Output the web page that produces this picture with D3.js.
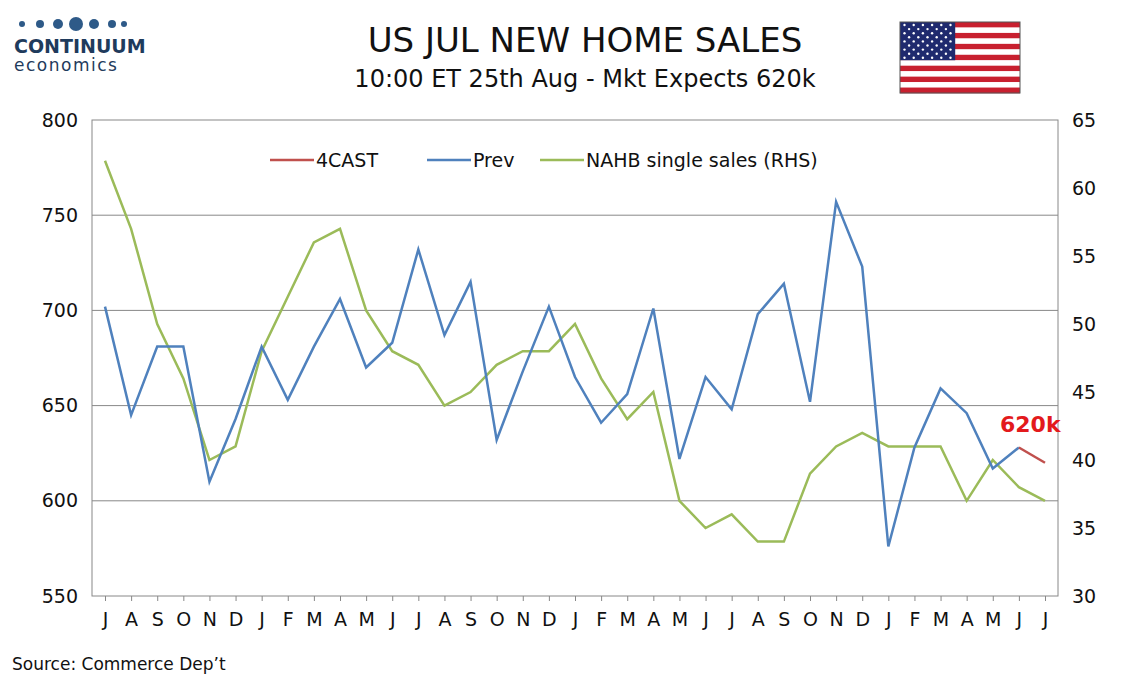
<!DOCTYPE html><html><head><meta charset="utf-8"><script src="https://cdn.jsdelivr.net/npm/d3@7"></script>
<style>body{margin:0;background:#fff}text{font-family:Verdana,"DejaVu Sans",sans-serif}</style></head><body>
<svg id="c" width="1134" height="680"></svg>
<script>
const months=["J","A","S","O","N","D","J","F","M","A","M","J","J","A","S","O","N","D","J","F","M","A","M","J","J","A","S","O","N","D","J","F","M","A","M","J","J"];
const prev=[702,645,681,681,610,643,681,653,681,706,670,683,732,687,715,632,668,702,665,641,656,701,622,665,648,698,714,652,757,723,576,628,659,646,617,628];
const fcast=[628,620];
const nahb=[62,57,50,46,40,41,48,52,56,57,51,48,47,44,45,47,48,48,50,46,43,45,37,35,36,34,34,39,41,42,41,41,41,37,40,38,37];
const leftTicks=[550,600,650,700,750,800], rightTicks=[30,35,40,45,50,55,60,65];
const svg=d3.select("#c");
const L=92,R=1058,T=120,B=596;
const x=d3.scalePoint().domain(d3.range(months.length)).range([105,1045]);
const y=d3.scaleLinear().domain([550,800]).range([B,T]);
const y2=d3.scaleLinear().domain([30,65]).range([B,T]);
svg.append("g").selectAll("line").data(leftTicks.slice(1,-1)).join("line").attr("x1",L).attr("x2",R).attr("y1",d=>y(d)).attr("y2",d=>y(d)).attr("stroke","#888");
svg.append("rect").attr("x",L).attr("y",T).attr("width",R-L).attr("height",B-T).attr("fill","none").attr("stroke","#888");
const gl=svg.append("g").attr("transform",`translate(${L},0)`).call(d3.axisLeft(y).tickValues(leftTicks).tickSize(0).tickPadding(14));
const gr=svg.append("g").attr("transform",`translate(${R},0)`).call(d3.axisRight(y2).tickValues(rightTicks).tickSize(0).tickPadding(14));
const gx=svg.append("g").attr("transform",`translate(0,${B})`).call(d3.axisBottom(x).tickFormat(i=>months[i]).tickSize(5).tickPadding(8));
[gl,gr,gx].forEach(g=>{g.select(".domain").remove();g.selectAll("text").attr("font-size",19).attr("fill","#111");g.selectAll("line").attr("stroke","#888");});
gx.selectAll("text").attr("dy","0.9em");
const line=d3.line().x((d,i)=>x(i)).y(d=>y(d));
svg.append("path").datum(nahb).attr("fill","none").attr("stroke","#9bbb59").attr("stroke-width",2.5).attr("d",d3.line().x((d,i)=>x(i)).y(d=>y2(d)));
svg.append("path").datum(prev).attr("fill","none").attr("stroke","#4f81bd").attr("stroke-width",2.5).attr("d",line);
svg.append("path").datum(fcast).attr("fill","none").attr("stroke","#c0504d").attr("stroke-width",2.5).attr("d",d3.line().x((d,i)=>x(prev.length-1+i)).y(d=>y(d)));
svg.append("text").attr("x",1000).attr("y",432).attr("fill","#e31a1c").attr("font-size",22).attr("font-weight","bold").attr("font-family","Arial,Liberation Sans").text("620k");
const leg=[["4CAST","#c0504d",270],["Prev","#4f81bd",427],["NAHB single sales (RHS)","#9bbb59",540]];
leg.forEach(([t,c,lx])=>{svg.append("line").attr("x1",lx).attr("x2",lx+44).attr("y1",160).attr("y2",160).attr("stroke",c).attr("stroke-width",2.5);
svg.append("text").attr("x",lx+46).attr("y",167).attr("font-size",19).attr("fill","#111").text(t);});
svg.append("text").attr("x",585).attr("y",52).attr("text-anchor","middle").attr("font-size",34).attr("fill","#111").text("US JUL NEW HOME SALES");
svg.append("text").attr("x",585).attr("y",87).attr("text-anchor","middle").attr("font-size",24).attr("fill","#111").text("10:00 ET 25th Aug - Mkt Expects 620k");
svg.append("text").attr("x",12).attr("y",670).attr("font-size",17).attr("fill","#111").text("Source: Commerce Dep’t");
// logo
[[22,3],[40,4],[58,5],[76,7],[94,5],[112,4],[124,3]].forEach(([cx,r])=>svg.append("circle").attr("cx",cx).attr("cy",24).attr("r",r).attr("fill","#2e5a88"));
svg.append("text").attr("x",14).attr("y",53).attr("font-size",19).attr("font-weight","bold").attr("fill","#1f3b5c").attr("font-family","Arial Narrow,Liberation Sans Narrow,Arial").text("CONTINUUM");
svg.append("text").attr("x",14).attr("y",71).attr("font-size",17).attr("fill","#1f3b5c").attr("letter-spacing","1.5").text("economics");
// flag
const fx=900,fy=22,fw=120,fh=71;
for(let i=0;i<13;i++)svg.append("rect").attr("x",fx).attr("y",fy+i*fh/13).attr("width",fw).attr("height",fh/13+0.3).attr("fill",i%2?"#fff":"#c8202f");
svg.append("rect").attr("x",fx).attr("y",fy).attr("width",fw*0.46).attr("height",fh*7/13).attr("fill","#1f2a6e");
for(let r=0;r<9;r++)for(let c=0;c<(r%2?5:6);c++)svg.append("circle").attr("cx",fx+4.5+c*9.2+(r%2?4.6:0)).attr("cy",fy+3+r*4.1).attr("r",1.2).attr("fill","#fff");
svg.append("rect").attr("x",fx).attr("y",fy).attr("width",fw).attr("height",fh).attr("fill","none").attr("stroke","#555");
</script></body></html>
